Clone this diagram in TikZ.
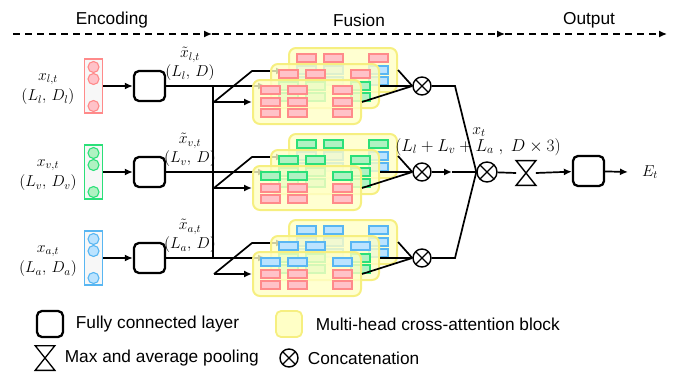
\documentclass[tikz,border=0pt]{standalone}
\usepackage{fix-cm}
\usepackage{fontspec}
\setmainfont{Liberation Sans}
\usetikzlibrary{arrows.meta,backgrounds}

\definecolor{redln}{HTML}{FF8A8A}
\definecolor{redfl}{HTML}{FFC2C8}
\definecolor{grnln}{HTML}{2BE079}
\definecolor{grnfl}{HTML}{B0F2C2}
\definecolor{bluln}{HTML}{58B6F2}
\definecolor{blufl}{HTML}{BBE3FF}
\definecolor{yelln}{HTML}{F6EF80}
\definecolor{yelfl}{HTML}{FFFFC6}

% one cross-attention block: name, left, top, query colour, key colour
\newcommand{\attblock}[5]{%
  \node[attn,anchor=north west] (#1) at (#2,#3) {};
  \foreach \cx in {9,36,81} {
    \draw[headcell=#4] (#2+\cx,#3+7) rectangle ++(19,8);
    \draw[headcell=#5] (#2+\cx,#3+19) rectangle ++(19,8);
    \draw[headcell=#5] (#2+\cx,#3+30) rectangle ++(19,8);
  }}

\begin{document}
\begin{tikzpicture}
  [x=1pt,y=-1pt,line width=1.7pt,
   every node/.style={font=\fontsize{17.28}{20}\selectfont},
   lbl/.style={font=\fontsize{15.8}{18}\selectfont,inner sep=1pt},
   wire/.style={line width=1.7pt,draw=black},
   arr/.style={wire,-{Latex[length=8pt,width=7pt]}},
   fcbox/.style={draw,line width=2.3pt,rounded corners=5pt,minimum width=31pt,minimum height=30pt,inner sep=0pt},
   inbar/.style={draw=#1ln,fill=black!3,line width=1.3pt,minimum width=18pt,minimum height=54pt,inner sep=0pt},
   indot/.style={draw=#1ln,fill=#1fl,line width=1.1pt},
   attn/.style={draw=yelln,fill=yelfl,fill opacity=.8,line width=2pt,rounded corners=7pt,minimum width=108pt,minimum height=44pt,inner sep=0pt},
   headcell/.style={draw=#1ln,fill=#1fl,line width=1.4pt},
   cat/.style={circle,draw,line width=1.4pt,minimum size=18pt,inner sep=0pt,
     path picture={\draw[line width=1.4pt] (path picture bounding box.north west) -- (path picture bounding box.south east)
       (path picture bounding box.north east) -- (path picture bounding box.south west);}},
   poolbox/.style={minimum width=18pt,minimum height=23pt,inner sep=0pt},
   stage/.style={dashed,dash pattern=on 7pt off 5pt,line width=1.4pt,-{Latex[length=8pt,width=7pt]}}]
  \useasboundingbox (0,0) rectangle (677,372);

  % stages
  \node (enc) at (112,20) {Encoding};
  \node (fus) at (359,20) {Fusion};
  \node (out) at (589,20) {Output};
  \coordinate (h0) at (13,34);
  \coordinate (h1) at (212,34);
  \coordinate (h2) at (505,34);
  \coordinate (h3) at (667,34);
  \draw[stage] (h0) -- (h1);
  \draw[stage] (h1) -- (h2);
  \draw[stage] (h2) -- (h3);

  % three modalities
  \foreach \r/\y/\c/\m in {1/86/red/l,2/172/grn/v,3/258/blu/a} {
    \node[inbar=\c] (in\r) at (93.5,\y) {};
    \foreach \dy in {-19,-7,20}
      \draw[indot=\c] (93.5,\y+\dy) circle (5.5pt);
    \node[lbl] at (48,\y-7) {$x_{\m,t}$};
    \node[lbl] at (48,\y+11) {$(L_\m,\,D_\m)$};
    \node[fcbox] (fc\r) at (149.5,\y) {};
    \draw[arr] (in\r) -- (fc\r);
    \node[lbl] at (190,\y-31) {$\tilde{x}_{\m,t}$};
    \node[lbl] at (190,\y-13) {$(L_\m,\,D)$};

    \attblock{b\r}{288}{\y-39}{\c}{blu}
    \attblock{m\r}{270}{\y-23}{\c}{grn}
    \attblock{f\r}{252}{\y-7}{\c}{red}

    \coordinate (j\r) at (213,\y);
    \coordinate (k\r) at (266,\y);
    \coordinate (s\r) at (214,\y+16);
    \coordinate (t\r) at (284,\y-15);
    \begin{scope}[on background layer]
      \draw[wire] (fc\r) -- (j\r);
      \draw[arr] (j\r) -- (k\r);
      \draw[arr] (s\r) -- (252,\y-15) -- (t\r);
      \draw[arr] (s\r) -- (f\r.west);
    \end{scope}

    \node[cat] (c\r) at (422,\y) {};
    \draw[wire] (b\r.east) -- (c\r.west);
    \draw[wire] (m\r.east) -- (c\r.west);
    \draw[wire] (f\r.east) -- (c\r.west);
  }
  \draw[wire] (j1) -- (j3);

  % output
  \node[cat,minimum size=20pt] (cc) at (487,172) {};
  \coordinate (u1) at (455,86);
  \coordinate (u3) at (455,258);
  \coordinate (mid) at (452,172);
  \draw[wire] (c1) -- (u1) -- (cc.west);
  \draw[wire] (c3) -- (u3) -- (cc.west);
  \draw[arr] (c2) -- (mid);
  \draw[wire] (mid) -- (cc);
  \node[lbl] (xt) at (479,132) {$x_t$};
  \node (dim) at (478,147) {$(L_l+L_v+L_a\;,\;D\times 3)$};

  \node[poolbox] (pool) at (526,173) {};
  \draw[line width=1.4pt] (pool.north west) -- (pool.north east) -- (pool.south west) -- (pool.south east) -- cycle;
  \node[fcbox] (fc4) at (588.5,171) {};
  \coordinate (eout) at (628,172);
  \node[lbl] (et) at (650,172) {$E_t$};
  \draw[wire] (cc) -- (pool.west);
  \draw[arr] (pool.east) -- (fc4);
  \draw[arr] (fc4) -- (eout);

  % legend
  \node[fcbox,minimum width=26pt,minimum height=26pt] (lfc) at (50,324) {};
  \node[anchor=west,inner sep=0pt] (tfc) at (75,324) {Fully connected layer};
  \node[draw=yelln,fill=yelfl,line width=1.8pt,rounded corners=5pt,minimum width=26pt,minimum height=26pt] (latt) at (289,324) {};
  \node[anchor=west,inner sep=0pt] (tatt) at (315,324) {Multi-head cross-attention block};
  \node[poolbox] (lpool) at (45,358) {};
  \draw[line width=1.3pt] (lpool.north west) -- (lpool.north east) -- (lpool.south west) -- (lpool.south east) -- cycle;
  \node[anchor=west,inner sep=0pt] (tpool) at (64,358) {Max and average pooling};
  \node[cat] (lcat) at (289,358) {};
  \node[anchor=west,inner sep=0pt] (tcat) at (307,358) {Concatenation};
\end{tikzpicture}
\end{document}
